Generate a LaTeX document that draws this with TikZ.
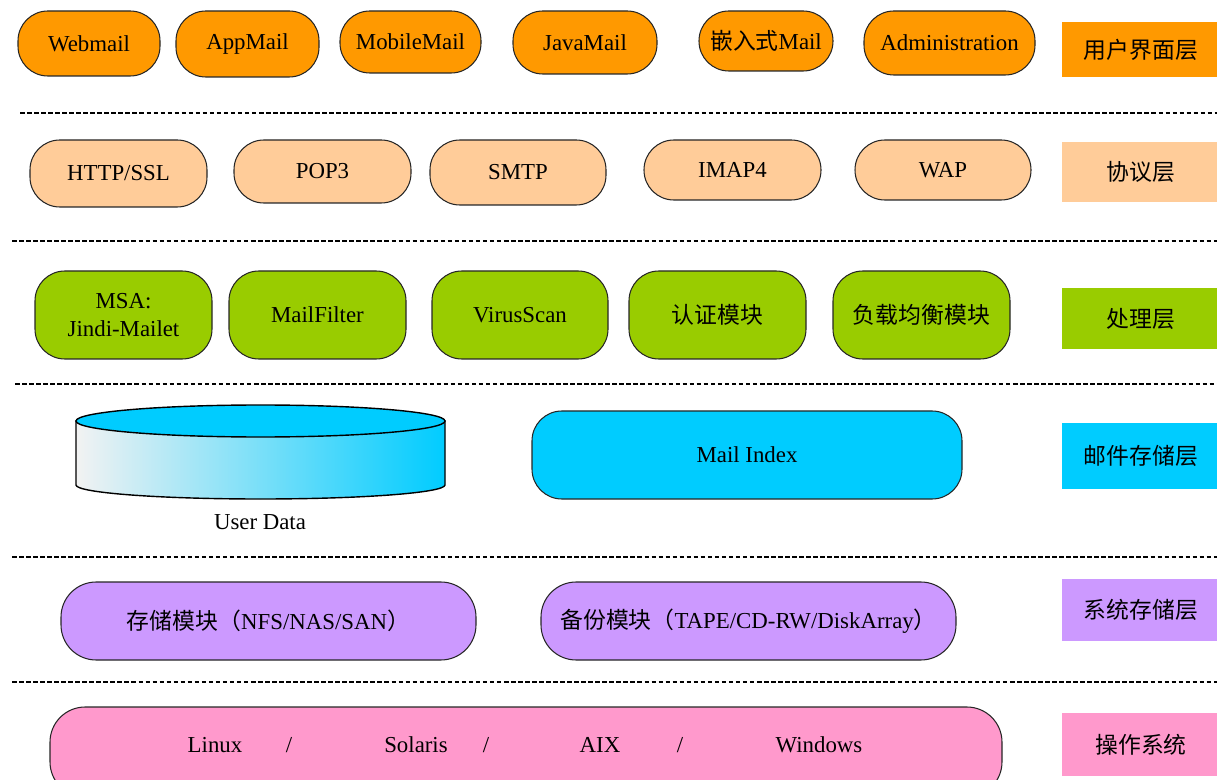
\documentclass[tikz,border=0pt]{standalone}
\usepackage{fontspec}
\setmainfont{Liberation Serif}
\newfontfamily\cjk{Noto Sans CJK SC}
\usetikzlibrary{positioning}
\definecolor{uiorange}{HTML}{FF9900}
\definecolor{protopeach}{HTML}{FFCC99}
\definecolor{procgreen}{HTML}{99CC00}
\definecolor{storecyan}{HTML}{00CCFF}
\definecolor{syspurple}{HTML}{CC99FF}
\definecolor{ospink}{HTML}{FF99CC}
\tikzset{
    every picture/.style={line width=0.6pt},
    boxsize/.style 2 args={minimum width=#1*0.02cm,minimum height=#2*0.02cm},
    pill/.style={draw=black!85,rounded corners=17pt,inner sep=0pt,align=center},
    layer/.style={inner sep=0pt,minimum width=158*0.02cm},
    sepline/.style={line width=1.2pt,dash pattern=on 2.6pt off 1.4pt}
}

\begin{document}
\begin{tikzpicture}[x=0.02cm,y=-0.02cm,
        every node/.style={font=\fontsize{13}{16}\selectfont}]
    \useasboundingbox (0,0) rectangle (1217,780);

    % user interface layer
    \node[pill,fill=uiorange,boxsize={142}{65}] (web) at (89,43.5) {Webmail};
    \node[pill,fill=uiorange,boxsize={143}{66}] (app) at (247.5,44) {AppMail};
    \node[pill,fill=uiorange,boxsize={141}{62}] (mobile) at (410.5,42) {MobileMail};
    \node[pill,fill=uiorange,boxsize={144}{63}] (java) at (585,42.5) {JavaMail};
    \node[pill,fill=uiorange,boxsize={134}{60}] (embed) at (766,41) {{\cjk 嵌入式}Mail};
    \node[pill,fill=uiorange,boxsize={171}{64}] (admin) at (949.5,43) {Administration};
    \node[layer,fill=uiorange,minimum height=55*0.02cm] (uilayer) at (1141,49.5) {\cjk 用户界面层};
    \draw[sepline] (20,113) -- (1217,113);

    % protocol layer
    \node[pill,fill=protopeach,boxsize={177}{67}] (http) at (118.5,173.5) {HTTP/SSL};
    \node[pill,fill=protopeach,boxsize={177}{63}] (pop) at (322.5,171.5) {POP3};
    \node[pill,fill=protopeach,boxsize={176}{65}] (smtp) at (518,172.5) {SMTP};
    \node[pill,fill=protopeach,boxsize={177}{60}] (imap) at (732.5,170) {IMAP4};
    \node[pill,fill=protopeach,boxsize={176}{60}] (wap) at (943,170) {WAP};
    \node[layer,fill=protopeach,minimum height=60*0.02cm] (protolayer) at (1141,172) {\cjk 协议层};
    \draw[sepline] (12,241) -- (1217,241);

    % processing layer
    \node[pill,fill=procgreen,boxsize={177}{88}] (msa) at (123.5,315) {MSA:\\Jindi-Mailet};
    \node[pill,fill=procgreen,boxsize={177}{88}] (filter) at (317.5,315) {MailFilter};
    \node[pill,fill=procgreen,boxsize={176}{88}] (virus) at (520,315) {VirusScan};
    \node[pill,fill=procgreen,boxsize={177}{88}] (auth) at (717.5,315) {\cjk 认证模块};
    \node[pill,fill=procgreen,boxsize={177}{88}] (balance) at (921.5,315) {\cjk 负载均衡模块};
    \node[layer,fill=procgreen,minimum height=61*0.02cm] (proclayer) at (1141,318.5) {\cjk 处理层};
    \draw[sepline] (15,384) -- (1217,384);

    % mail storage layer
    \shade[left color=black!5,right color=storecyan,draw=black,line width=0.8pt]
        (76,421) -- (76,485) arc[start angle=180,end angle=0,x radius=184.5,y radius=14]
        -- (445,421) -- cycle;
    \draw[fill=storecyan,line width=0.8pt] (260.5,421) ellipse [x radius=184.5,y radius=16];
    \coordinate (userdb) at (260.5,460);
    \node (userdata) at (260,522) {User Data};
    \node[pill,fill=storecyan,boxsize={430}{88}] (mailindex) at (747,455) {Mail Index};
    \node[layer,fill=storecyan,minimum height=66*0.02cm] (storelayer) at (1141,456) {\cjk 邮件存储层};
    \draw[sepline] (12,557) -- (1217,557);

    % system storage layer
    \node[pill,fill=syspurple,boxsize={415}{78},rounded corners=20pt] (storemod) at (268.5,621)
        {{\cjk 存储模块（}NFS/NAS/SAN{\cjk ）}};
    \node[pill,fill=syspurple,boxsize={415}{78},rounded corners=20pt] (backup) at (748.5,621)
        {{\cjk 备份模块（}TAPE/CD-RW/DiskArray{\cjk ）}};
    \node[layer,fill=syspurple,minimum height=62*0.02cm] (syslayer) at (1141,610) {\cjk 系统存储层};
    \draw[sepline] (12,682) -- (1217,682);

    % operating system
    \node[pill,fill=ospink,boxsize={952}{90},rounded corners=20pt] (os) at (526,752) {};
    \node (linux) at (215,745) {Linux};
    \node (slash1) at (289,745) {/};
    \node (solaris) at (416,745) {Solaris};
    \node (slash2) at (486,745) {/};
    \node (aix) at (600,745) {AIX};
    \node (slash3) at (680,745) {/};
    \node (windows) at (819,745) {Windows};
    \node[layer,fill=ospink,minimum height=63*0.02cm] (oslayer) at (1141,744.5) {\cjk 操作系统};
\end{tikzpicture}
\end{document}
